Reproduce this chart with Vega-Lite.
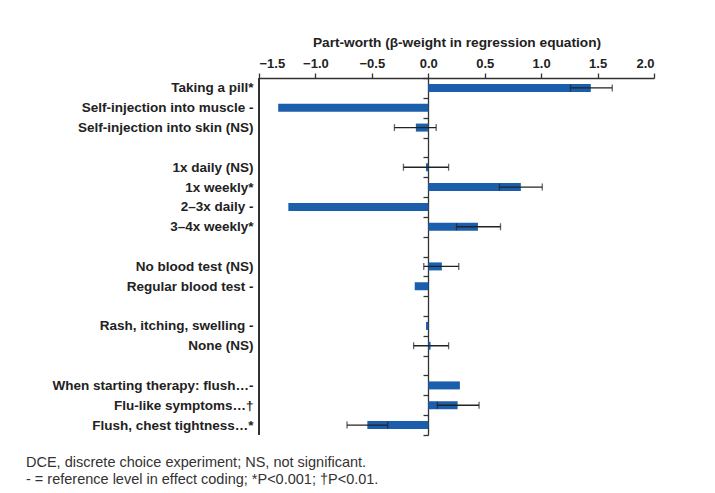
{
  "$schema": "https://vega.github.io/schema/vega-lite/v6.json",
  "width": 395,
  "height": 357,
  "autosize": "none",
  "padding": {"left": 259, "top": 78, "right": 61, "bottom": 58},
  "background": "white",
  "config": {
    "font": "Liberation Sans",
    "view": {"stroke": null}
  },
  "title": {
    "text": ["DCE, discrete choice experiment; NS, not significant.", "- = reference level in effect coding; *P<0.001; †P<0.01."],
    "orient": "bottom",
    "anchor": "start",
    "frame": "group",
    "dx": -233,
    "offset": 20,
    "fontSize": 14.5,
    "fontWeight": "normal",
    "color": "#333333",
    "lineHeight": 17,
    "font": "Liberation Sans"
  },
  "data": {
    "values": [
      {"label": "Taking a pill*", "value": 1.44, "lo": 1.26, "hi": 1.63},
      {"label": "Self-injection into muscle -", "value": -1.33, "lo": null, "hi": null},
      {"label": "Self-injection into skin (NS)", "value": -0.11, "lo": -0.30, "hi": 0.07},
      {"label": "1x daily (NS)", "value": -0.02, "lo": -0.22, "hi": 0.18},
      {"label": "1x weekly*", "value": 0.82, "lo": 0.63, "hi": 1.01},
      {"label": "2–3x daily - ", "value": -1.24, "lo": null, "hi": null},
      {"label": "3–4x weekly*", "value": 0.44, "lo": 0.25, "hi": 0.64},
      {"label": "No blood test (NS)", "value": 0.12, "lo": -0.04, "hi": 0.27},
      {"label": "Regular blood test -", "value": -0.12, "lo": null, "hi": null},
      {"label": "Rash, itching, swelling -", "value": -0.02, "lo": null, "hi": null},
      {"label": "None (NS)", "value": 0.02, "lo": -0.13, "hi": 0.18},
      {"label": "When starting therapy: flush…-", "value": 0.28, "lo": null, "hi": null},
      {"label": "Flu-like symptoms…†", "value": 0.26, "lo": 0.08, "hi": 0.45},
      {"label": "Flush, chest tightness…*", "value": -0.54, "lo": -0.72, "hi": -0.36}
    ]
  },
  "encoding": {
    "y": {
      "field": "label",
      "type": "nominal",
      "scale": {
        "domain": ["Taking a pill*", "Self-injection into muscle -", "Self-injection into skin (NS)", " ", "1x daily (NS)", "1x weekly*", "2–3x daily - ", "3–4x weekly*", "  ", "No blood test (NS)", "Regular blood test -", "   ", "Rash, itching, swelling -", "None (NS)", "    ", "When starting therapy: flush…-", "Flu-like symptoms…†", "Flush, chest tightness…*"],
        "paddingInner": 0,
        "paddingOuter": 0
      },
      "axis": {
        "title": null,
        "orient": "left",
        "offset": -169,
        "domain": true,
        "domainColor": "#333333",
        "domainWidth": 1.3,
        "ticks": true,
        "tickBand": "extent",
        "tickSize": 5,
        "tickColor": "#333333",
        "tickWidth": 1.3,
        "labelPadding": 170,
        "labelFontSize": 13.5,
        "labelFontWeight": "bold",
        "labelColor": "#222222",
        "labelLimit": 0,
        "grid": false
      }
    }
  },
  "layer": [
    {
      "mark": {"type": "rule", "color": "#333333", "strokeWidth": 1.3},
      "encoding": {"x": {"datum": -1.5, "type": "quantitative"}, "y": null}
    },
    {
      "mark": {"type": "bar", "height": 8, "color": "#1b5eab"},
      "encoding": {
        "x": {
          "field": "value",
          "type": "quantitative",
          "scale": {"domain": [-1.5, 2.0], "nice": false, "zero": false},
          "axis": {
            "orient": "top",
            "values": [-1.5, -1.0, -0.5, 0.0, 0.5, 1.0, 1.5, 2.0],
            "format": ".1f",
            "title": "Part-worth (β-weight in regression equation)",
            "titleFontSize": 13.7,
            "titleFontWeight": "bold",
            "titleColor": "#222222",
            "titlePadding": 8,
            "labelFontSize": 13,
            "labelFontWeight": "bold",
            "labelColor": "#222222",
            "labelPadding": 3,
            "tickSize": 5,
            "tickColor": "#333333",
            "tickWidth": 1.3,
            "domainColor": "#333333",
            "domainWidth": 1.3,
            "grid": false
          }
        }
      }
    },
    {
      "transform": [{"filter": "datum.lo != null"}],
      "mark": {"type": "rule", "color": "#222222", "strokeWidth": 1.3},
      "encoding": {
        "x": {"field": "lo", "type": "quantitative"},
        "x2": {"field": "hi"}
      }
    },
    {
      "transform": [{"filter": "datum.lo != null"}],
      "mark": {"type": "tick", "color": "#222222", "size": 7, "thickness": 1.3},
      "encoding": {"x": {"field": "lo", "type": "quantitative"}}
    },
    {
      "transform": [{"filter": "datum.lo != null"}],
      "mark": {"type": "tick", "color": "#222222", "size": 7, "thickness": 1.3},
      "encoding": {"x": {"field": "hi", "type": "quantitative"}}
    }
  ]
}
